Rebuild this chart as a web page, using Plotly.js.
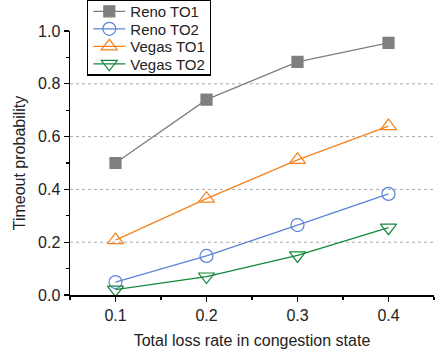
<!DOCTYPE html>
<html><head><meta charset="utf-8">
<script src="https://cdn.plot.ly/plotly-3.0.1.min.js"></script>
<style>html,body{margin:0;padding:0;background:#fff}#c{width:445px;height:353px}</style>
</head><body><div id="c"></div>
<script>
const lossRate = [0.1, 0.2, 0.3, 0.4];
const renoTO1 = [0.50, 0.74, 0.883, 0.955];
const renoTO2 = [0.049, 0.148, 0.265, 0.383];
const vegasTO1 = [0.208, 0.365, 0.512, 0.64];
const vegasTO2 = [0.02, 0.07, 0.15, 0.255];
const seriesNames = ['Reno TO1', 'Reno TO2', 'Vegas TO1', 'Vegas TO2'];
const gridVals = [0.2, 0.4, 0.6, 0.8];

const colors = ['#7f7f7f', '#5b84d6', '#f5821f', '#14883a'];
const symbols = ['square', 'circle-open', 'triangle-up-open', 'triangle-down-open'];
const sizes = [11, 13, 14, 14];
const ys = [renoTO1, renoTO2, vegasTO1, vegasTO2];

const traces = ys.map((y, i) => ({
  x: lossRate, y: y, name: seriesNames[i], type: 'scatter', mode: 'lines+markers',
  line: {color: colors[i], width: 1.3},
  marker: {symbol: symbols[i], size: sizes[i], color: colors[i], line: {color: colors[i], width: 1.2}},
  cliponaxis: false
}));

const shapes = gridVals.map(v => ({
  type: 'line', xref: 'paper', x0: 0, x1: 1, yref: 'y', y0: v, y1: v,
  line: {color: '#aaaaaa', width: 1, dash: 'dot'}, layer: 'below'
}));

const font = {family: 'Liberation Sans, Arial, sans-serif', size: 16, color: '#222'};
Plotly.newPlot('c', traces, {
  width: 445, height: 353,
  margin: {l: 70, r: 11, t: 31, b: 58, autoexpand: false},
  paper_bgcolor: '#fff', plot_bgcolor: '#fff',
  font: font,
  showlegend: true,
  legend: {x: 0.047, y: 1.12, xanchor: 'left', yanchor: 'top', bordercolor: '#000', borderwidth: 1.2,
           bgcolor: '#fff', font: {family: font.family, size: 15, color: '#222'}, itemwidth: 32,
           tracegroupgap: 0},
  xaxis: {range: [0.05, 0.45], tickvals: lossRate, tickformat: '.1f', ticks: 'outside', ticklen: 5,
          tickwidth: 1.2, tickcolor: '#000', showline: true, linecolor: '#000', linewidth: 1.5,
          showgrid: false, zeroline: false,
          minor: {dtick: 0.05, tick0: 0.05, ticks: 'outside', ticklen: 3, tickcolor: '#000', tickwidth: 1.2},
          title: {text: 'Total loss rate in congestion state', font: {size: 16}, standoff: 12}},
  yaxis: {range: [0, 1.0], dtick: 0.2, tickformat: '.1f', ticks: 'outside', ticklen: 5,
          tickwidth: 1.2, tickcolor: '#000', showline: true, linecolor: '#000', linewidth: 1.5,
          showgrid: false, zeroline: false,
          minor: {dtick: 0.1, ticks: 'outside', ticklen: 3, tickcolor: '#000', tickwidth: 1.2},
          title: {text: 'Timeout probability', font: {size: 16}, standoff: 8}},
  shapes: shapes
}, {displayModeBar: false, staticPlot: true}).then(gd => {
  // tighten legend row spacing to match the reference
  const step = 17.5, first = 12;
  const items = gd.querySelectorAll('.legend .traces');
  items.forEach((g, i) => {
    const m = /translate\(\s*([-\d.]+)[ ,]+([-\d.]+)\s*\)/.exec(g.getAttribute('transform') || '');
    const x = m ? parseFloat(m[1]) : 0;
    g.setAttribute('transform', 'translate(' + x + ',' + (first + i * step) + ')');
  });
  const h = first + (items.length - 1) * step + 10.5;
  gd.querySelectorAll('.legend rect.bg').forEach(r => r.setAttribute('height', h));
});
</script></body></html>
